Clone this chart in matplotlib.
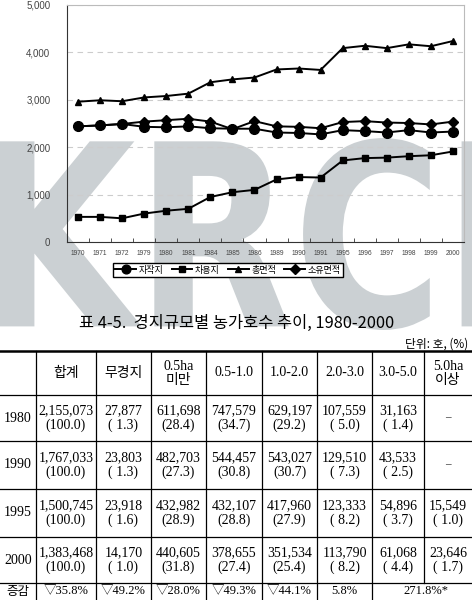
import matplotlib
matplotlib.use("Agg")
import matplotlib.pyplot as plt
import numpy as np
from matplotlib.font_manager import FontProperties
from matplotlib.patches import PathPatch
from matplotlib.textpath import TextPath
from matplotlib.transforms import Affine2D

plt.rcParams["font.family"] = ["Noto Sans CJK KR", "DejaVu Sans"]

# chart data (천호)
years = ["1970", "1971", "1972", "1979", "1980", "1981", "1984", "1985", "1986",
         "1989", "1990", "1991", "1995", "1996", "1997", "1998", "1999", "2000"]
jajak = [2440, 2460, 2490, 2430, 2420, 2440, 2400, 2390, 2390,
         2310, 2300, 2270, 2360, 2340, 2310, 2360, 2310, 2330]
chayong = [530, 530, 500, 600, 660, 700, 950, 1050, 1100,
           1320, 1370, 1360, 1720, 1770, 1780, 1810, 1830, 1910]
total = [2960, 2990, 2970, 3050, 3080, 3130, 3370, 3430, 3470,
         3640, 3660, 3630, 4090, 4140, 4090, 4170, 4130, 4240]
owned = [2440, 2460, 2490, 2540, 2570, 2600, 2540, 2380, 2550,
         2440, 2430, 2400, 2530, 2550, 2520, 2510, 2480, 2540]

# table data
table_title = "표 4-5.  경지규모별 농가호수 추이, 1980-2000"
table_unit = "단위: 호, (%)"
col_heads = [("합계",), ("무경지",), ("0.5ha", "미만"), ("0.5-1.0",), ("1.0-2.0",),
             ("2.0-3.0",), ("3.0-5.0",), ("5.0ha", "이상")]
row_years = ["1980", "1990", "1995", "2000"]
counts = [
    [2155073, 27877, 611698, 747579, 629197, 107559, 31163, None],
    [1767033, 23803, 482703, 544457, 543027, 129510, 43533, None],
    [1500745, 23918, 432982, 432107, 417960, 123333, 54896, 15549],
    [1383468, 14170, 440605, 378655, 351534, 113790, 61068, 23646],
]
shares = [
    [100.0, 1.3, 28.4, 34.7, 29.2, 5.0, 1.4, None],
    [100.0, 1.3, 27.3, 30.8, 30.7, 7.3, 2.5, None],
    [100.0, 1.6, 28.9, 28.8, 27.9, 8.2, 3.7, 1.0],
    [100.0, 1.0, 31.8, 27.4, 25.4, 8.2, 4.4, 1.7],
]
change_label = "증감"
changes = ["▽35.8%", "▽49.2%", "▽28.0%", "▽49.3%", "▽44.1%", "5.8%", "271.8%*"]

W, H = 472, 600
fig = plt.figure(figsize=(W / 100, H / 100), dpi=100)

# full-figure layer in pixel coords (y down) for watermark and table
bg = fig.add_axes([0, 0, 1, 1], zorder=0)
bg.set_xlim(0, W)
bg.set_ylim(H, 0)
bg.axis("off")

tp = TextPath((0, 0), "KRCI", size=1,
              prop=FontProperties(family="DejaVu Sans", weight="bold"))
ext = tp.get_extents()
wx0, wx1, wtop, wbot = -4, 500, 138, 330
tr = (Affine2D().translate(-ext.x0, -ext.y0)
      .scale((wx1 - wx0) / ext.width, -(wbot - wtop) / ext.height)
      .translate(wx0, wbot))
bg.add_patch(PathPatch(tr.transform_path(tp), fc="#cbd0d3", ec="none", zorder=0,
                       clip_on=False))

# line chart
ax = fig.add_axes([67 / W, 1 - 242 / H, (464 - 67) / W, (242 - 5) / H], zorder=1)
ax.set_facecolor("none")
x = np.arange(len(years))
ax.plot(x, jajak, "-o", color="black", lw=1.4, ms=7, label="자작지")
ax.plot(x, chayong, "-s", color="black", lw=1.4, ms=4.5, label="차용지")
ax.plot(x, total, "-^", color="black", lw=1.4, ms=4.5, label="총면적")
ax.plot(x, owned, "-D", color="black", lw=1.4, ms=5.5, label="소유면적")

ax.set_xlim(-0.5, len(years) - 0.5)
ax.set_ylim(0, 5000)
yt = list(range(0, 5001, 1000))
ax.set_yticks(yt, [f"{v:,}" for v in yt], family="Liberation Sans", fontsize=7,
              color="#444444")
ax.set_xticks(x, years, family="Liberation Sans", fontsize=4.8, color="#444444")
ax.set_xticks(np.arange(-0.5, len(years)), minor=True)
ax.tick_params(axis="y", length=0, pad=12)
ax.tick_params(axis="x", which="major", length=0, pad=6)
ax.tick_params(axis="x", which="minor", direction="in", length=3, color="#333333")
ax.grid(axis="y", ls=(0, (5, 4)), color="#cccccc", lw=0.8)
for s in ("left", "bottom"):
    ax.spines[s].set_color("#333333")
for s in ("top", "right"):
    ax.spines[s].set_color("#bbbbbb")

fig.legend(loc="center", bbox_to_anchor=(228 / W, 1 - 270 / H), ncol=4,
           fontsize=6.5, frameon=True, fancybox=False, edgecolor="black",
           framealpha=1, handlelength=2.3, handletextpad=0.3, columnspacing=0.9,
           borderpad=0.25, markerscale=0.9)

# table
serif = ["Liberation Serif", "Noto Sans CJK KR"]
col_x = [0, 36, 96, 151, 206, 262, 317, 372, 424, 472]
row_y = [351, 395, 441, 489, 537, 583]
fs = 10

bg.text(237, 323, table_title, ha="center", va="center", fontsize=11.8, zorder=3)
bg.text(468, 344, table_unit, ha="right", va="center", fontsize=8.5, zorder=3)

bg.plot([0, W], [row_y[0], row_y[0]], color="black", lw=1.8, zorder=2)
for yy in row_y[1:]:
    bg.plot([0, W], [yy, yy], color="black", lw=0.9, zorder=2)
for i, xx in enumerate(col_x[1:-1], start=1):
    bottom = row_y[-1] if i == 8 else H
    bg.plot([xx, xx], [row_y[0], bottom], color="black", lw=0.9, zorder=2)

centers = [(col_x[i] + col_x[i + 1]) / 2 for i in range(len(col_x) - 1)]

# header row
hy = (row_y[0] + row_y[1]) / 2
for c, lines in enumerate(col_heads, start=1):
    if len(lines) == 1:
        bg.text(centers[c], hy, lines[0], ha="center", va="center", fontsize=fs,
                family=serif, zorder=3)
    else:
        bg.text(centers[c], hy - 7, lines[0], ha="center", va="center", fontsize=fs,
                family=serif, zorder=3)
        bg.text(centers[c], hy + 7.5, lines[1], ha="center", va="center", fontsize=fs,
                family=serif, zorder=3)

# year rows
for r, yr in enumerate(row_years):
    cy = (row_y[r + 1] + row_y[r + 2]) / 2
    bg.text(centers[0], cy, yr, ha="center", va="center", fontsize=fs,
            family=serif, zorder=3)
    for c in range(len(counts[r])):
        n, p = counts[r][c], shares[r][c]
        if n is None:
            bg.text(centers[c + 1], cy, "–", ha="center", va="center",
                    fontsize=fs - 2, family=serif, zorder=3)
            continue
        bg.text(centers[c + 1], cy - 7.5, f"{n:,}", ha="center", va="center",
                fontsize=fs, family=serif, zorder=3)
        bg.text(centers[c + 1], cy + 7.5, f"({p:4.1f})", ha="center", va="center",
                fontsize=fs, family=serif, zorder=3)

# change row, squeezed into the strip left at the bottom
ly = row_y[-1] + 8.5
fs_last = 9
bg.text(centers[0], ly, change_label, ha="center", va="center", fontsize=fs_last,
        family=serif, zorder=3)
for c, lab in enumerate(changes[:-1]):
    bg.text(centers[c + 1], ly, lab, ha="center", va="center", fontsize=fs_last,
            family=serif, zorder=3)
bg.text((col_x[7] + col_x[9]) / 2 + 4, ly, changes[-1], ha="center", va="center",
        fontsize=fs_last, family=serif, zorder=3)

fig.savefig("out.png", dpi=100)
